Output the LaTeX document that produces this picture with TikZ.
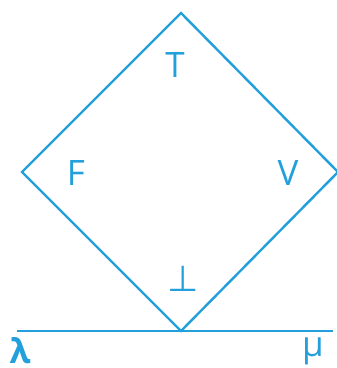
\documentclass[tikz,border=0pt]{standalone}
\usepackage{fontspec}
\setmainfont{Open Sans}
\newfontfamily\symfnt{DejaVu Sans}
\usepackage{tikz}
\definecolor{latblue}{RGB}{35,160,220}

\begin{document}
\begin{tikzpicture}[x=1pt, y=-1pt,
    edge/.style={draw=latblue, line width=2.4pt},
    lbl/.style={text=latblue, font=\fontsize{35}{40}\selectfont, inner sep=0pt}
  ]
    \useasboundingbox (0,0) rectangle (337,368);

    \coordinate (top)    at (181,13);
    \coordinate (left)   at (22,172);
    \coordinate (right)  at (338,172);
    \coordinate (bottom) at (181,331);
    \coordinate (lend)   at (17,331);
    \coordinate (rend)   at (333,331);

    \draw[edge] (top) -- (right) -- (bottom) -- (left) -- cycle;
    \draw[edge] (lend) -- (rend);

    \node[lbl] (t)   at (175,65)  {T};
    \node[lbl] (f)   at (76,173)  {F};
    \node[lbl] (v)   at (288,173) {V};
    \node[lbl, font=\symfnt\fontsize{36}{40}\selectfont] (bot) at (183,279) {⊥};
    \node[lbl, font=\bfseries\fontsize{34}{40}\selectfont] (lam) at (20,351) {λ};
    \node[lbl] (mu)  at (313,351) {μ};
\end{tikzpicture}
\end{document}
